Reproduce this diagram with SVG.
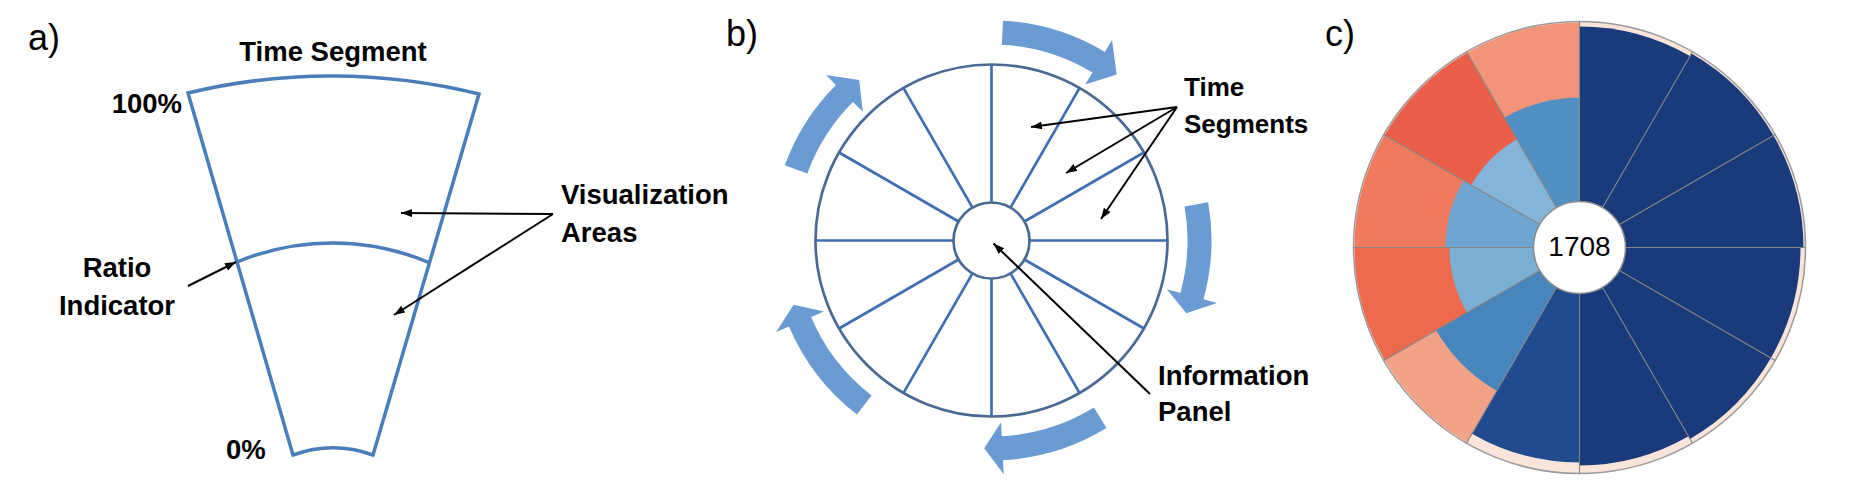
<svg xmlns="http://www.w3.org/2000/svg" width="1854" height="488" viewBox="0 0 1854 488">
<style>
.lbl{font-family:"Liberation Sans",Arial,sans-serif;font-weight:bold;font-size:27.5px;fill:#000}
.sm{font-size:26px}
.pl{font-family:"Liberation Sans",Arial,sans-serif;font-size:36px;fill:#000}
.seg{fill:none;stroke:#4a7ebb;stroke-width:3.5}
.ptr{fill:none;stroke:#000;stroke-width:2;marker-end:url(#ah)}
.ring{fill:#fff;stroke:#4a6a94;stroke-width:2.7}
.spoke{stroke:#3f6eb3;stroke-width:2.7}
.carr{fill:#6a9bd2}
.div{stroke:#858585;stroke-width:1.1}
</style>
<defs>
<marker id="ah" markerUnits="userSpaceOnUse" markerWidth="12" markerHeight="9" refX="11" refY="4" orient="auto">
<path d="M0,0 L11,4 L0,8 z" fill="#000"/>
</marker>
</defs>
<rect width="1854" height="488" fill="#fff"/>

<g id="panel-a">
<text class="pl" x="28" y="50">a)</text>
<g id="time-segment-shape">
<path class="seg" d="M188,93 A613,613 0 0 1 479,94 L373,455 A118,118 0 0 0 293,455 Z"/>
<path class="seg" d="M237,262 A248,248 0 0 1 430,263"/>
</g>
<g id="label-time-segment"><text class="lbl" x="333" y="61" text-anchor="middle">Time Segment</text></g>
<g id="label-100"><text class="lbl" x="182" y="113" text-anchor="end">100%</text></g>
<g id="label-0"><text class="lbl" x="226" y="459">0%</text></g>
<g id="label-ratio"><text class="lbl" x="117" y="277" text-anchor="middle">Ratio</text><text class="lbl" x="117" y="315" text-anchor="middle">Indicator</text></g>
<g id="label-vis"><text class="lbl" x="561" y="204">Visualization</text><text class="lbl" x="561" y="242">Areas</text></g>
</g>

<g id="panel-b">
<text class="pl" x="726" y="46">b)</text>
<g id="wheel">
<circle class="ring" cx="991.5" cy="240.5" r="176"/>
<g class="spoke">
<line x1="991.5" y1="202.5" x2="991.5" y2="64.5"/>
<line x1="1010.5" y1="207.59" x2="1079.5" y2="88.08"/>
<line x1="1024.41" y1="221.5" x2="1143.92" y2="152.5"/>
<line x1="1029.5" y1="240.5" x2="1167.5" y2="240.5"/>
<line x1="1024.41" y1="259.5" x2="1143.92" y2="328.5"/>
<line x1="1010.5" y1="273.41" x2="1079.5" y2="392.92"/>
<line x1="991.5" y1="278.5" x2="991.5" y2="416.5"/>
<line x1="972.5" y1="273.41" x2="903.5" y2="392.92"/>
<line x1="958.59" y1="259.5" x2="839.08" y2="328.5"/>
<line x1="953.5" y1="240.5" x2="815.5" y2="240.5"/>
<line x1="958.59" y1="221.5" x2="839.08" y2="152.5"/>
<line x1="972.5" y1="207.59" x2="903.5" y2="88.08"/>
</g>
<circle class="ring" cx="991.5" cy="240.5" r="38"/>
</g>
<g id="rotation-arrows">
<path class="carr" d="M1003.01,20.8 A220,220 0 0 1 1104.81,51.92 L1112.02,39.92 L1116.68,74.38 L1085.24,84.5 L1092.45,72.49 A196,196 0 0 0 1001.76,44.77 Z"/>
<path class="carr" d="M1208.16,202.3 A220,220 0 0 1 1203.5,299.29 L1216.99,303.03 L1186.33,313.34 L1166.88,289.14 L1180.37,292.88 A196,196 0 0 0 1184.52,206.46 Z"/>
<path class="carr" d="M1106.45,428.08 A220,220 0 0 1 1003.01,460.2 L1003.75,474.18 L984.24,448.37 L1001.03,422.25 L1001.76,436.23 A196,196 0 0 0 1093.91,407.62 Z"/>
<path class="carr" d="M856.95,414.56 A220,220 0 0 1 788.99,326.46 L776.1,331.93 L793.68,304.78 L823.97,311.61 L811.08,317.08 A196,196 0 0 0 871.63,395.57 Z"/>
<path class="carr" d="M784.77,165.26 A220,220 0 0 1 835.94,84.94 L826.04,75.04 L859.2,80 L862.81,111.81 L852.91,101.91 A196,196 0 0 0 807.32,173.46 Z"/>
</g>
<g id="label-time-segments"><text class="lbl sm" x="1184" y="96">Time</text><text class="lbl sm" x="1184" y="133">Segments</text></g>
<g id="label-info"><text class="lbl" x="1158" y="385">Information</text><text class="lbl" x="1158" y="421">Panel</text></g>
</g>

<g id="panel-c">
<text class="pl" x="1325" y="46">c)</text>
<g id="radial-chart">
<circle cx="1579.5" cy="247.5" r="226" fill="#fbe4da" stroke="#9a9a9a" stroke-width="1.5"/>
<g id="wedges-right" fill="#1a3b7b">
<path d="M1579.5,247.5 L1579.5,26.5 A221,221 0 0 1 1690,56.11 Z"/>
<path d="M1579.5,247.5 L1691.5,53.5 A224,224 0 0 1 1773.49,135.5 Z"/>
<path d="M1579.5,247.5 L1773.49,135.5 A224,224 0 0 1 1803.5,247.5 Z"/>
<path d="M1579.5,247.5 L1800.5,247.5 A221,221 0 0 1 1770.89,358 Z"/>
<path d="M1579.5,247.5 L1770.89,358 A221,221 0 0 1 1690,438.89 Z"/>
<path d="M1579.5,247.5 L1688.5,436.29 A218,218 0 0 1 1579.5,465.5 Z"/>
<path fill="#204b8f" d="M1579.5,247.5 L1579.5,462.5 A215,215 0 0 1 1472,433.7 Z"/>
</g>
<g id="wedges-left-outer">
<path fill="#f2a387" d="M1579.5,247.5 L1467,442.36 A225,225 0 0 1 1384.64,360 Z"/>
<path fill="#ed6a4f" d="M1579.5,247.5 L1384.64,360 A225,225 0 0 1 1354.5,247.5 Z"/>
<path fill="#f07a5e" d="M1579.5,247.5 L1354.5,247.5 A225,225 0 0 1 1384.64,135 Z"/>
<path fill="#eb5f4a" d="M1579.5,247.5 L1384.64,135 A225,225 0 0 1 1467,52.64 Z"/>
<path fill="#f29479" d="M1579.5,247.5 L1467,52.64 A225,225 0 0 1 1579.5,22.5 Z"/>
</g>
<g id="wedges-left-inner">
<path fill="#4686bd" d="M1579.5,247.5 L1496.75,390.83 A165.5,165.5 0 0 1 1436.17,330.25 Z"/>
<path fill="#7bb0d5" d="M1579.5,247.5 L1466.92,312.5 A130,130 0 0 1 1449.5,247.5 Z"/>
<path fill="#6ea6d1" d="M1579.5,247.5 L1445.5,247.5 A134,134 0 0 1 1463.45,180.5 Z"/>
<path fill="#84b4d7" d="M1579.5,247.5 L1471.25,185 A125,125 0 0 1 1517,139.25 Z"/>
<path fill="#5190c4" d="M1579.5,247.5 L1504.5,117.6 A150,150 0 0 1 1579.5,97.5 Z"/>
</g>
<g id="dividers" class="div">
<line x1="1579.5" y1="247.5" x2="1579.5" y2="21.5"/>
<line x1="1579.5" y1="247.5" x2="1692.5" y2="51.78"/>
<line x1="1579.5" y1="247.5" x2="1775.22" y2="134.5"/>
<line x1="1579.5" y1="247.5" x2="1805.5" y2="247.5"/>
<line x1="1579.5" y1="247.5" x2="1775.22" y2="360.5"/>
<line x1="1579.5" y1="247.5" x2="1692.5" y2="443.22"/>
<line x1="1579.5" y1="247.5" x2="1579.5" y2="473.5"/>
<line x1="1579.5" y1="247.5" x2="1466.5" y2="443.22"/>
<line x1="1579.5" y1="247.5" x2="1383.78" y2="360.5"/>
<line x1="1579.5" y1="247.5" x2="1353.5" y2="247.5"/>
<line x1="1579.5" y1="247.5" x2="1383.78" y2="134.5"/>
<line x1="1579.5" y1="247.5" x2="1466.5" y2="51.78"/>
</g>
</g>
<g id="info-center">
<circle cx="1579.5" cy="247.5" r="46" fill="#fff" stroke="#8a8a8a" stroke-width="1.5"/>
<text x="1579.5" y="256" text-anchor="middle" font-family="Liberation Sans, Arial, sans-serif" font-size="28" fill="#000">1708</text>
</g>
</g>

<g id="connectors">
<line class="ptr" x1="553" y1="214" x2="401" y2="213"/>
<line class="ptr" x1="553" y1="214" x2="394" y2="315"/>
<line class="ptr" x1="188" y1="286" x2="236" y2="262"/>
<line class="ptr" x1="1177" y1="107" x2="1031" y2="127"/>
<line class="ptr" x1="1177" y1="107" x2="1066" y2="173"/>
<line class="ptr" x1="1177" y1="107" x2="1101" y2="219"/>
<line class="ptr" x1="1150" y1="394" x2="993.5" y2="243.5"/>
</g>
</svg>
